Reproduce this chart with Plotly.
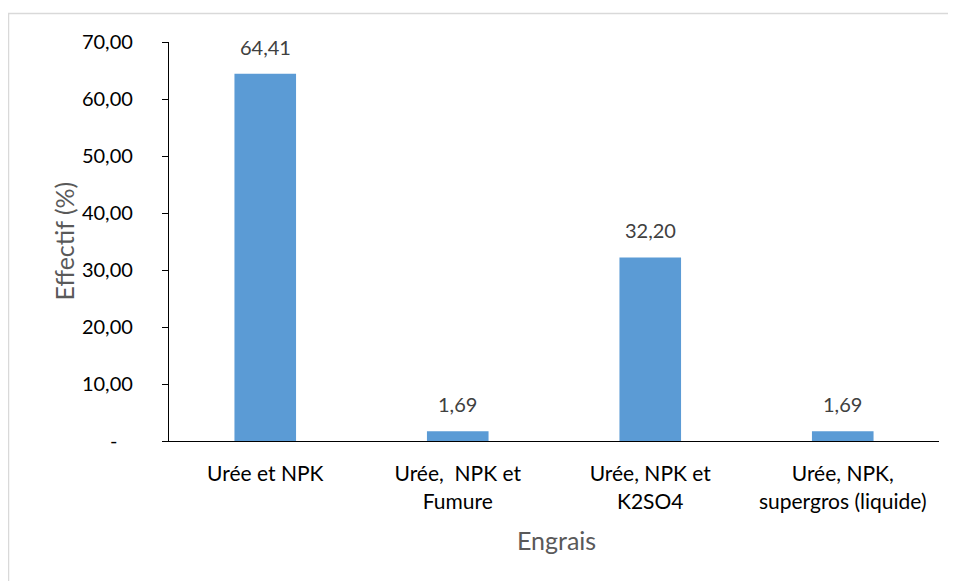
import plotly.graph_objects as go

categories = ["Urée et NPK", "Urée,  NPK et<br>Fumure", "Urée, NPK et<br>K2SO4", "Urée, NPK,<br>supergros (liquide)"]
values = [64.41, 1.69, 32.20, 1.69]
tick_vals = [0, 10, 20, 30, 40, 50, 60, 70]
tick_text = ["-\u00a0\u00a0\u00a0", "10,00", "20,00", "30,00", "40,00", "50,00", "60,00", "70,00"]
y_title = "Effectif (%)"
x_title = "Engrais"

FONT = "Lato, Carlito, Calibri, sans-serif"
OFF = 8  # page body margin
W, H = 956 - OFF, 581 - OFF
L, R, T, B = 169 - OFF, 17, 42 - OFF, 140
pw, ph = W - L - R, H - T - B

def px_to_paper_x(px):
    return (px - OFF - L) / pw

def px_to_paper_y(py):
    return (H - B - (py - OFF)) / ph

fig = go.Figure()
fig.add_trace(go.Bar(
    x=categories, y=values,
    marker=dict(color="#5B9BD5", line=dict(width=0)),
    width=0.32,
    hoverinfo="skip",
))

annotations = []
for c, v in zip(categories, values):
    annotations.append(dict(
        x=c, y=v, xref="x", yref="y",
        text=f"{v:.2f}".replace(".", ","),
        showarrow=False, yanchor="middle", yshift=27,
        font=dict(family=FONT, size=20, color="#404040"),
    ))
annotations.append(dict(
    x=px_to_paper_x(63), y=0.5, xref="paper", yref="paper",
    text=y_title, textangle=-90, showarrow=False,
    xanchor="center", yanchor="middle",
    font=dict(family=FONT, size=25, color="#595959"),
))
annotations.append(dict(
    x=px_to_paper_x(556), y=px_to_paper_y(540), xref="paper", yref="paper",
    text=x_title, showarrow=False,
    xanchor="center", yanchor="middle",
    font=dict(family=FONT, size=25, color="#595959"),
))

fig.update_layout(
    width=W, height=H,
    margin=dict(l=L, r=R, t=T, b=B, pad=0),
    paper_bgcolor="white", plot_bgcolor="white",
    showlegend=False,
    annotations=annotations,
    font=dict(family=FONT, size=20, color="#000000"),
    shapes=[dict(
        type="rect", xref="paper", yref="paper",
        x0=px_to_paper_x(8.5), y0=-0.6, x1=1.2, y1=px_to_paper_y(13.5),
        line=dict(color="#D9D9D9", width=1.5), fillcolor="rgba(0,0,0,0)",
        layer="below",
    )],
)
fig.update_xaxes(
    showline=True, linecolor="#000000", linewidth=1.3,
    ticks="", showgrid=False, zeroline=False,
    tickfont=dict(family=FONT, size=21, color="#000000"),
    ticklabelstandoff=14,
    range=[-0.5, 3.5],
)
fig.update_yaxes(
    range=[0, 70], tickvals=tick_vals, ticktext=tick_text,
    showline=True, linecolor="#000000", linewidth=1.3,
    ticks="outside", ticklen=6, tickcolor="#000000", tickwidth=1.3,
    showgrid=False, zeroline=False,
    tickfont=dict(family=FONT, size=20, color="#000000"),
    ticklabelstandoff=25,
)

fig.write_html("out.html")
